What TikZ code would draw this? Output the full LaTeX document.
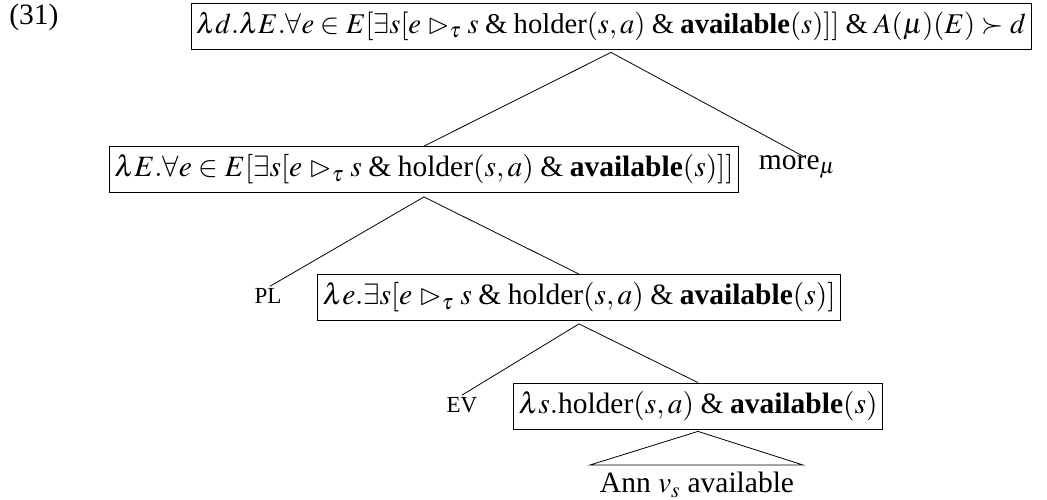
\documentclass[tikz,border=0pt]{standalone}
\usepackage{mathptmx}
\usepackage{amssymb}
\usepackage{fontspec}
\setmainfont{Liberation Serif}
\begin{document}
\begin{tikzpicture}[x=1pt,y=-1pt,
  semnode/.style={draw, line width=0.8pt, inner xsep=5pt, minimum height=46pt, font=\fontsize{29.5}{35}\selectfont},
  plain/.style={inner sep=2pt, font=\fontsize{29.5}{35}\selectfont},
  small/.style={inner sep=2pt, font=\fontsize{23}{28}\selectfont},
  edge/.style={line width=0.8pt}]
\useasboundingbox (0,0) rectangle (1047,500);
\newcommand{\amp}{\mathrel{\mbox{\&}}}
\newcommand{\hold}{\mbox{holder}}
\node[plain] (num) at (34,17) {(31)};
\node[semnode, font=\fontsize{28.6}{34}\selectfont] (b1) at (611,26) {$\lambda d.\lambda E.\forall e\in E[\exists s[e \vartriangleright_\tau s \amp \hold(s,a) \amp \mbox{\bfseries available}(s)]] \amp A(\mu)(E)\succ d$};
\node[semnode] (b2) at (424,169.5) {$\lambda E.\forall e\in E[\exists s[e \vartriangleright_\tau s \amp \hold(s,a) \amp \mbox{\bfseries available}(s)]]$};
\node[plain] (more) at (797,167) {more$_\mu$};
\node[small] (pl) at (268,296) {PL};
\node[semnode] (b3) at (579,297.5) {$\lambda e.\exists s[e \vartriangleright_\tau s \amp \hold(s,a) \amp \mbox{\bfseries available}(s)]$};
\node[small] (ev) at (462,405) {EV};
\node[semnode] (b4) at (698,406) {$\lambda s.\hold(s,a) \amp \mbox{\bfseries available}(s)$};
\node[plain] (ann) at (697,485) {Ann $v_s$ available};
\coordinate (tl) at (590,465);
\coordinate (tr) at (803,465);
\draw[edge] (b2.north) -- ([yshift=-3pt]b1.south) -- ([xshift=6pt,yshift=-3pt]more.north);
\draw[edge] ([xshift=2pt]pl.north) -- ([yshift=-4pt]b2.south) -- (b3.north);
\draw[edge] (ev.north) -- ([yshift=-3pt]b3.south) -- (b4.north);
\draw[edge] ([yshift=-2pt]b4.south) -- (tl) -- (tr) -- cycle;
\end{tikzpicture}
\end{document}
